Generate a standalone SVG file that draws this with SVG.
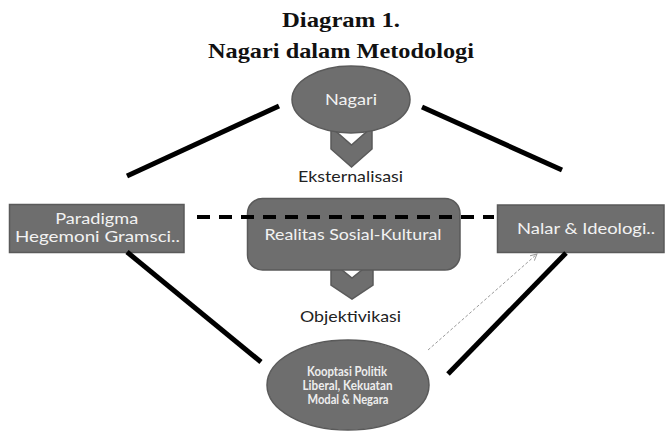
<svg xmlns="http://www.w3.org/2000/svg" width="665" height="431" viewBox="0 0 665 431">
  <defs>
    <style>
      .title { font-family: "Liberation Serif", "DejaVu Serif", serif; font-weight: bold; font-size: 21px; fill: #111; text-anchor: middle; }
      .shape { fill: #6e6e6e; stroke: #5a5a5a; stroke-width: 1.5; }
      .ntext { font-family: Lato, "Liberation Sans", sans-serif; font-size: 15px; fill: #f2f2f2; text-anchor: middle; }
      .small { font-family: Lato, "Liberation Sans", sans-serif; font-size: 12.5px; font-weight: bold; fill: #ededed; text-anchor: middle; }
      .label { font-family: Lato, "Liberation Sans", sans-serif; font-size: 16px; fill: #222; text-anchor: middle; }
      .solid { stroke: #000; stroke-width: 5; fill: none; }
      .dash { stroke: #000; stroke-width: 4; stroke-dasharray: 13 9; fill: none; }
      .dot { stroke: #9a9a9a; stroke-width: 1; stroke-dasharray: 3 2; fill: none; }
    </style>
    <marker id="openArrow" viewBox="0 0 10 10" refX="9" refY="5" markerWidth="8" markerHeight="8" orient="auto" markerUnits="userSpaceOnUse">
      <path d="M1,1 L9,5 L1,9" fill="none" stroke="#9a9a9a" stroke-width="1.2"/>
    </marker>
  </defs>

  <g id="title">
    <text class="title" x="341" y="27" textLength="118" lengthAdjust="spacingAndGlyphs">Diagram 1.</text>
    <text class="title" x="341" y="58" textLength="266" lengthAdjust="spacingAndGlyphs">Nagari dalam Metodologi</text>
  </g>

  <g id="nagari">
    <polygon class="shape" points="331,127 351.5,145 372,127 372,149 351.5,167 331,149"/>
    <ellipse class="shape" cx="351" cy="99.5" rx="59" ry="33.5"/>
    <text class="ntext" x="351" y="105" textLength="52" lengthAdjust="spacingAndGlyphs">Nagari</text>
  </g>

  <g id="eksternalisasi">
    <text class="label" x="350.5" y="181.5" textLength="105" lengthAdjust="spacingAndGlyphs">Eksternalisasi</text>
  </g>

  <g id="paradigma">
    <rect class="shape" x="9.5" y="204.5" width="174.5" height="48"/>
    <text class="ntext" x="96.7" y="224" textLength="83" lengthAdjust="spacingAndGlyphs">Paradigma</text>
    <text class="ntext" x="97.5" y="241.5" textLength="165" lengthAdjust="spacingAndGlyphs">Hegemoni Gramsci..</text>
  </g>

  <g id="realitas">
    <polygon class="shape" points="331,261 352,278 373,261 373,285 352,299 331,285"/>
    <rect class="shape" x="247.5" y="198.5" width="212.5" height="71.5" rx="15" ry="15"/>
    <text class="ntext" x="353" y="240" textLength="177" lengthAdjust="spacingAndGlyphs" style="font-size:16px">Realitas Sosial-Kultural</text>
  </g>

  <g id="nalar">
    <rect class="shape" x="497.5" y="205" width="166.5" height="47.5"/>
    <text class="ntext" x="586" y="233.5" textLength="138" lengthAdjust="spacingAndGlyphs" style="font-size:16px">Nalar &amp; Ideologi..</text>
  </g>

  <g id="objektivikasi">
    <text class="label" x="350.5" y="321.5" textLength="101" lengthAdjust="spacingAndGlyphs">Objektivikasi</text>
  </g>

  <g id="kooptasi">
    <ellipse class="shape" cx="348" cy="385" rx="81" ry="45"/>
    <text class="small" x="347" y="376" textLength="80" lengthAdjust="spacingAndGlyphs">Kooptasi Politik</text>
    <text class="small" x="347.5" y="390" textLength="90" lengthAdjust="spacingAndGlyphs">Liberal, Kekuatan</text>
    <text class="small" x="348" y="404" textLength="81" lengthAdjust="spacingAndGlyphs">Modal &amp; Negara</text>
  </g>

  <g id="connectors">
    <line class="solid" x1="279" y1="106" x2="127" y2="176"/>
    <line class="solid" x1="422" y1="107" x2="562" y2="170"/>
    <line class="solid" x1="127" y1="252" x2="261" y2="362"/>
    <line class="solid" x1="566" y1="253" x2="448" y2="374"/>
    <line class="dash" x1="197" y1="217" x2="494" y2="217"/>
    <line class="dot" x1="428" y1="350" x2="537" y2="254" marker-end="url(#openArrow)"/>
  </g>
</svg>
